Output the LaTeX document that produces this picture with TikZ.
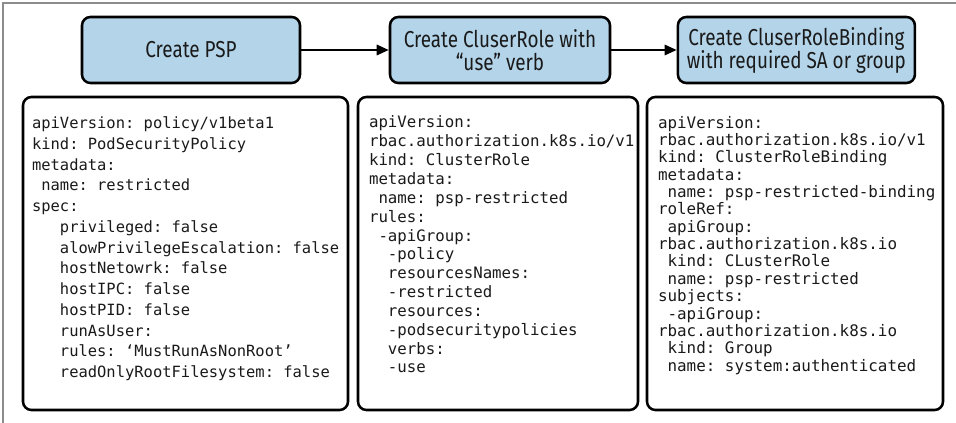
\documentclass[tikz,border=0pt]{standalone}
\usepackage{fontspec}
\setsansfont{Fira Sans}[FakeStretch=0.82]
\setmonofont{DejaVu Sans Mono}
\usepackage{tikz}
\usetikzlibrary{arrows.meta, positioning}
\definecolor{stepfill}{HTML}{B3D4E9}
\definecolor{framegray}{HTML}{8C8C8C}
\definecolor{inkdark}{HTML}{1A1A1A}

\begin{document}
\begin{tikzpicture}[
  flow/.style={draw=black, line width=1.4pt, -{Triangle[length=3mm, width=2.6mm]}},
  stepbox/.style={draw=black, fill=stepfill, line width=1.8pt, rounded corners=6pt,
                  minimum height=1.65cm, align=center, text=inkdark,
                  font=\sffamily\fontsize{16.4pt}{16.4pt}\selectfont},
  yamlbox/.style={draw=black, fill=white, line width=1.8pt, rounded corners=6pt,
                  minimum height=7.825cm},
  yamltext/.style={anchor=north west, inner sep=0pt, align=left, text=inkdark},
]
  % Page size and the partial frame (left and top edges only)
  \useasboundingbox (0,0) rectangle (23.9,-10.575);
  \coordinate (frameBL) at (0.075,-10.575);
  \coordinate (frameTL) at (0.075,-0.075);
  \coordinate (frameTR) at (23.9,-0.075);
  \draw[framegray, line width=0.9pt] (frameBL) -- (frameTL) -- (frameTR);

  % Steps
  \node[stepbox, minimum width=5.45cm] (psp) at (4.775,-1.25) {Create PSP};
  \node[stepbox, minimum width=5.5cm] (crole) at (12.5,-1.25) {Create CluserRole with\\“use” verb};
  \node[stepbox, minimum width=5.925cm] (cbind) at (19.91,-1.25) {Create CluserRoleBinding\\with required SA or group};

  \draw[flow] (psp) -- (crole);
  \draw[flow] (crole) -- (cbind);

  % Manifests
  \node[yamlbox, minimum width=8.125cm] (pspyaml) at (4.6375,-6.3375) {};
  \node[yamlbox, minimum width=7.0cm] (croleyaml) at (12.45,-6.3375) {};
  \node[yamlbox, minimum width=7.4cm] (cbindyaml) at (19.875,-6.3375) {};

  \node[yamltext, font=\ttfamily\fontsize{11pt}{14.75pt}\selectfont] (psptext)
    at ([shift={(0.25,-0.52)}]pspyaml.north west) {%
    apiVersion: policy/v1beta1\\
    kind: PodSecurityPolicy\\
    metadata:\\
    ~name: restricted\\
    spec:\\
    ~~~privileged: false\\
    ~~~alowPrivilegeEscalation: false\\
    ~~~hostNetowrk: false\\
    ~~~hostIPC: false\\
    ~~~hostPID: false\\
    ~~~runAsUser:\\
    ~~~rules: ‘MustRunAsNonRoot’\\
    ~~~readOnlyRootFilesystem: false};

  \node[yamltext, font=\ttfamily\fontsize{11.2pt}{13.4pt}\selectfont] (croletext)
    at ([shift={(0.3,-0.5)}]croleyaml.north west) {%
    apiVersion:\\
    rbac.authorization.k8s.io/v1\\
    kind: ClusterRole\\
    metadata:\\
    ~name: psp-restricted\\
    rules:\\
    ~-apiGroup:\\
    ~~-policy\\
    ~~resourcesNames:\\
    ~~-restricted\\
    ~~resources:\\
    ~~-podsecuritypolicies\\
    ~~verbs:\\
    ~~-use};

  \node[yamltext, font=\ttfamily\fontsize{11.3pt}{12.35pt}\selectfont] (cbindtext)
    at ([shift={(0.3,-0.5)}]cbindyaml.north west) {%
    apiVersion:\\
    rbac.authorization.k8s.io/v1\\
    kind: ClusterRoleBinding\\
    metadata:\\
    ~name: psp-restricted-binding\\
    roleRef:\\
    ~apiGroup:\\
    rbac.authorization.k8s.io\\
    ~kind: CLusterRole\\
    ~name: psp-restricted\\
    subjects:\\
    ~-apiGroup:\\
    rbac.authorization.k8s.io\\
    ~kind: Group\\
    ~name: system:authenticated};
\end{tikzpicture}
\end{document}
